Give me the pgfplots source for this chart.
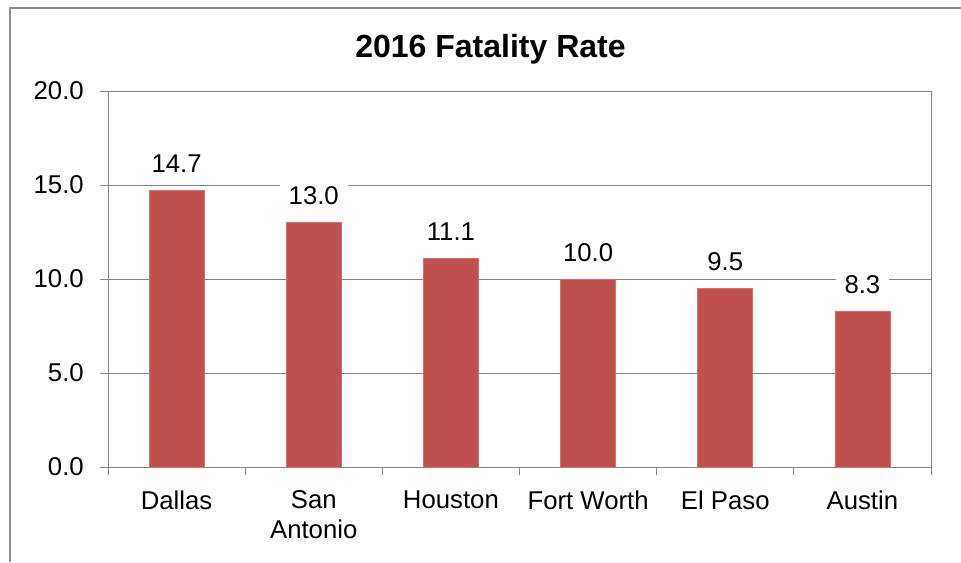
\documentclass[border=0pt]{standalone}
\usepackage{fontspec}
\setmainfont{Liberation Sans}
\usepackage{pgfplots}
\pgfplotsset{compat=1.18}
\definecolor{barred}{HTML}{C0504D}
\definecolor{gridgray}{HTML}{868686}
\definecolor{framegray}{HTML}{8C8C8C}
\begin{document}
\begin{tikzpicture}
\useasboundingbox (0,0) rectangle (720.75pt,421.5pt);
% outer chart frame (only left and top edges visible)
\draw[framegray, line width=1.3pt] (7.5pt,0) -- (7.5pt,415.5pt) -- (720.75pt,415.5pt);
\node[anchor=base, font={\fontsize{24}{28}\selectfont\bfseries}] at (367.9pt,378pt) {2016 Fatality Rate};
\begin{axis}[
    at={(81pt,71.25pt)}, anchor=south west,
    scale only axis,
    width=617.25pt, height=282pt,
    xmin=-0.5, xmax=5.5,
    ymin=0, ymax=20,
    ytick={0,5,10,15,20},
    xtick={0,1,2,3,4,5},
    xticklabels={Dallas,{San\\Antonio},Houston,Fort Worth,El Paso,Austin},
    minor xtick={-0.5,0.5,1.5,2.5,3.5,4.5,5.5},
    major x tick style={draw=none},
    tick align=outside,
    major tick length=6pt, minor tick length=6pt,
    tick style={gridgray, line width=0.75pt},
    xtick pos=bottom, ytick pos=left,
    ymajorgrids,
    grid style={gridgray, line width=0.75pt},
    axis line style={gridgray, line width=0.75pt},
    /pgf/number format/assume math mode=true,
    yticklabel={\pgfmathprintnumber[fixed,fixed zerofill,precision=1]{\tick}},
    yticklabel style={font={\fontsize{19.3}{22.5}\selectfont}, anchor=east, inner sep=0pt, xshift=-12pt},
    xticklabel style={font={\fontsize{19.3}{22.5}\selectfont}, align=center, anchor=north, inner sep=0pt, yshift=-11.5pt},
    ybar, bar width=0.4,
    nodes near coords={\pgfmathprintnumber[fixed,fixed zerofill,precision=1]{\pgfplotspointmeta}},
    every node near coord/.append style={font={\fontsize{19.3}{22.5}\selectfont}, fill=white, inner xsep=6.75pt, inner ysep=3pt, text height=13.7pt, text depth=0pt, anchor=south, yshift=10.2pt},
]
\addplot[fill=barred, draw=barred!80!white, line width=0.5pt] coordinates {(0,14.7) (1,13.0) (2,11.1) (3,10.0) (4,9.5) (5,8.3)};
\end{axis}
\end{tikzpicture}
\end{document}
